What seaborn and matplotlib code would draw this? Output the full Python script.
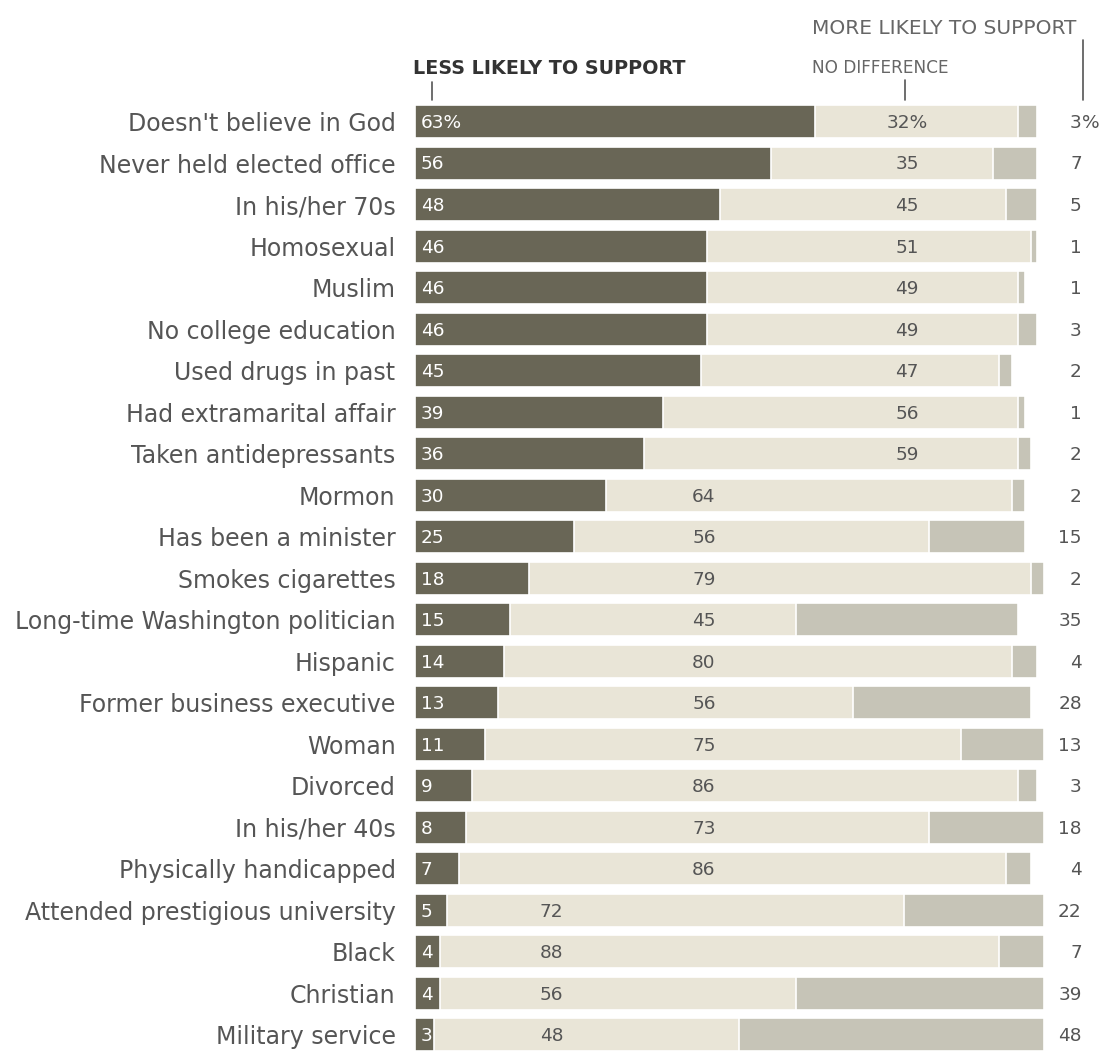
import matplotlib
matplotlib.use("Agg")
import matplotlib.pyplot as plt
import seaborn as sns
import pandas as pd
import numpy as np
from matplotlib.lines import Line2D

categories = [
    "Doesn't believe in God", "Never held elected office", "In his/her 70s",
    "Homosexual", "Muslim", "No college education", "Used drugs in past",
    "Had extramarital affair", "Taken antidepressants", "Mormon",
    "Has been a minister", "Smokes cigarettes", "Long-time Washington politician",
    "Hispanic", "Former business executive", "Woman", "Divorced",
    "In his/her 40s", "Physically handicapped", "Attended prestigious university",
    "Black", "Christian", "Military service",
]
less_likely = [63, 56, 48, 46, 46, 46, 45, 39, 36, 30, 25, 18, 15, 14, 13, 11, 9, 8, 7, 5, 4, 4, 3]
no_difference = [32, 35, 45, 51, 49, 49, 47, 56, 59, 64, 56, 79, 45, 80, 56, 75, 86, 73, 86, 72, 88, 56, 48]
more_likely = [3, 7, 5, 1, 1, 3, 2, 1, 2, 2, 15, 2, 35, 4, 28, 13, 3, 18, 4, 22, 7, 39, 48]

sns.set_theme(style="white")
plt.rcParams["font.family"] = ["DejaVu Sans"]

df = pd.DataFrame({
    "category": categories,
    "less": less_likely,
    "nodiff": no_difference,
    "more": more_likely,
})
df["c2"] = df["less"] + df["nodiff"]
df["c3"] = df["c2"] + df["more"]

DARK = "#6c6853"
LIGHT = "#ece7d4"
GRAY = "#c9c6b4"
TXT = "#555555"

W, H = 1103, 1051
fig = plt.figure(figsize=(W / 100, H / 100), dpi=100)
ax_left, ax_right = 415, 1050
ax_top, ax_bot = 101, 1051
ax = fig.add_axes([ax_left / W, 1 - ax_bot / H, (ax_right - ax_left) / W, (ax_bot - ax_top) / H])

order = categories
kw = dict(orient="h", order=order, ax=ax, width=0.8, edgecolor="white", linewidth=1.2)
sns.barplot(data=df, x="c3", y="category", color=GRAY, **kw)
sns.barplot(data=df, x="c2", y="category", color=LIGHT, **kw)
sns.barplot(data=df, x="less", y="category", color=DARK, **kw)

ax.set_xlim(0, 100)
ax.set_ylim(22.39, -0.5)
ax.set_xlabel("")
ax.set_ylabel("")
ax.set_xticks([])
for s in ax.spines.values():
    s.set_visible(False)
ax.tick_params(axis="y", length=0, pad=14, labelsize=17, labelcolor=TXT)

NUM_FS = 13.3
n = len(categories)
for i in range(n):
    l, nd, m = less_likely[i], no_difference[i], more_likely[i]
    first = i == 0
    ax.text(0.9, i + 0.03, f"{l}%" if first else f"{l}", color="white", fontsize=NUM_FS,
            ha="left", va="center")
    if l >= 35:
        xnd = 77.5
    elif l >= 7:
        xnd = 45.5
    else:
        xnd = 21.5
    ax.text(xnd, i + 0.03, f"{nd}%" if first else f"{nd}", color=TXT, fontsize=NUM_FS,
            ha="center", va="center")
    ax.text(105.0, i + 0.03, f"{m}", color=TXT, fontsize=NUM_FS, ha="right", va="center", clip_on=False)
    if first:
        ax.text(105.0, i + 0.03, "%", color=TXT, fontsize=NUM_FS, ha="left", va="center", clip_on=False)


def fx(px):
    return px / W


def fy(py):
    return 1 - py / H


fig.text(fx(413), fy(68), "LESS LIKELY TO SUPPORT", fontsize=13.8, fontweight="bold",
         color="#333333", ha="left", va="center")
fig.text(fx(812), fy(68), "NO DIFFERENCE", fontsize=12.2, color="#666666", ha="left", va="center")
fig.text(fx(812), fy(28), "MORE LIKELY TO SUPPORT", fontsize=14.5, color="#666666", ha="left", va="center")
for x0, y0, y1 in [(432, 82, 100), (905, 80, 100), (1083, 40, 100)]:
    fig.add_artist(Line2D([fx(x0), fx(x0)], [fy(y0), fy(y1)], color="#555555", lw=1.2))

fig.savefig("out.png", dpi=100, facecolor="white")
